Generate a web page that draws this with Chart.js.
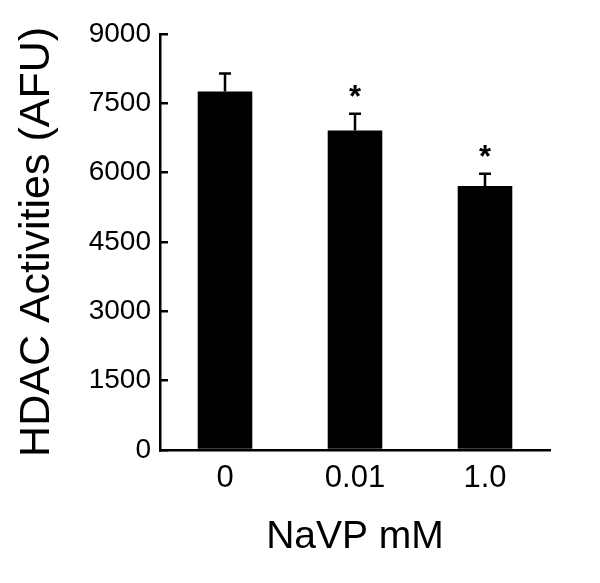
<!DOCTYPE html>
<html>
<head>
<meta charset="utf-8">
<script src="https://cdn.jsdelivr.net/npm/chart.js@4"></script>
<style>
  html, body { margin: 0; padding: 0; background: #fff; }
  #wrap { width: 600px; height: 583px; }
</style>
</head>
<body>
<div id="wrap"><canvas id="chart" width="600" height="583"></canvas></div>
<script>
const doses = ['0', '0.01', '1.0'];
const activity = [7750, 6910, 5710];
const errUp = [390, 360, 265];
const significant = [false, true, true];
const yTicks = [0, 1500, 3000, 4500, 6000, 7500, 9000];

const FONT = "'Liberation Sans', Arial, sans-serif";

// error bars + asterisks, placed through the chart's scales
const errorBars = {
  id: 'errorBars',
  afterDatasetsDraw(chart) {
    const ctx = chart.ctx;
    const y = chart.scales.y;
    const meta = chart.getDatasetMeta(0);
    ctx.save();
    ctx.strokeStyle = '#000';
    ctx.lineWidth = 2.5;
    meta.data.forEach((bar, i) => {
      const yTop = y.getPixelForValue(activity[i] + errUp[i]);
      const yBar = y.getPixelForValue(activity[i]);
      ctx.beginPath();
      ctx.moveTo(bar.x, yBar);
      ctx.lineTo(bar.x, yTop);
      ctx.moveTo(bar.x - 6, yTop);
      ctx.lineTo(bar.x + 6, yTop);
      ctx.stroke();
      if (significant[i]) {
        ctx.fillStyle = '#000';
        ctx.font = 'bold 31px ' + FONT;
        ctx.textAlign = 'center';
        ctx.textBaseline = 'middle';
        ctx.fillText('*', bar.x, yTop - 15);
      }
    });
    ctx.restore();
  }
};

new Chart(document.getElementById('chart'), {
  type: 'bar',
  data: {
    labels: doses,
    datasets: [{
      data: activity,
      backgroundColor: '#000',
      borderWidth: 0,
      barPercentage: 0.42,
      categoryPercentage: 1
    }]
  },
  options: {
    responsive: false,
    animation: false,
    layout: { padding: { top: 31, right: 50, bottom: 22, left: 0 } },
    plugins: { legend: { display: false }, tooltip: { enabled: false } },
    scales: {
      x: {
        grid: { display: false, drawTicks: false },
        border: { display: true, color: '#000', width: 2.5 },
        ticks: { color: '#000', font: { family: FONT, size: 31 }, padding: 10 },
        title: {
          display: true, text: 'NaVP mM', color: '#000',
          font: { family: FONT, size: 39 }, padding: { top: 8, bottom: 0 }
        },
        afterFit(s) { s.height = 111; }
      },
      y: {
        min: 0, max: 9000,
        afterBuildTicks(s) { s.ticks = yTicks.map(v => ({ value: v })); },
        grid: { drawOnChartArea: false, drawTicks: true, tickLength: -8, color: '#000', lineWidth: 2.5 },
        border: { display: true, color: '#000', width: 2.5 },
        ticks: {
          color: '#000', font: { family: FONT, size: 28 }, padding: 17,
          callback: v => String(v)
        },
        title: {
          display: true, text: 'HDAC Activities (AFU)', color: '#000',
          font: { family: FONT, size: 43 }, padding: { top: 11, bottom: 0 }
        },
        afterFit(s) { s.width = 160; }
      }
    }
  },
  plugins: [errorBars]
});
</script>
</body>
</html>
